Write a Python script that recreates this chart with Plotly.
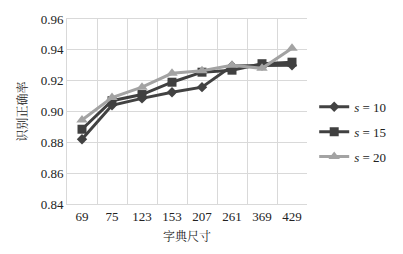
import plotly.graph_objects as go

categories = ["69", "75", "123", "153", "207", "261", "369", "429"]
s10 = [0.882, 0.904, 0.9085, 0.9125, 0.9158, 0.9295, 0.9298, 0.930]
s15 = [0.8885, 0.907, 0.911, 0.919, 0.9255, 0.9268, 0.931, 0.932]
s20 = [0.8945, 0.909, 0.9158, 0.9248, 0.9265, 0.930, 0.928, 0.941]
names = ["<i>s</i> = 10", "<i>s</i> = 15", "<i>s</i> = 20"]
yticks = [0.84, 0.86, 0.88, 0.90, 0.92, 0.94, 0.96]

series = [s10, s15, s20]
colors = ["#424242", "#404040", "#a3a3a3"]
symbols = ["diamond", "square", "triangle-up"]
sizes = [8, 9, 10]

fig = go.Figure()
for i, (vals, nm) in enumerate(zip(series, names)):
    fig.add_trace(go.Scatter(
        x=categories, y=vals, name=nm, mode="lines+markers",
        line=dict(color=colors[i], width=3),
        marker=dict(symbol=symbols[i], size=sizes[i], color=colors[i]),
        legendgroup=f"g{i}",
    ))

font_family = "Times New Roman, Liberation Serif, Noto Serif CJK SC, Noto Sans CJK SC"
fig.update_layout(
    width=403, height=254,
    margin=dict(l=67, r=96, t=15, b=41),
    paper_bgcolor="white", plot_bgcolor="white",
    font=dict(family=font_family, size=13, color="#222"),
    legend=dict(x=1.03, xanchor="left", y=0.39, yanchor="middle",
                traceorder="grouped", tracegroupgap=5,
                font=dict(size=13, family=font_family), itemwidth=30,
                bgcolor="rgba(0,0,0,0)"),
    showlegend=True,
)
fig.update_xaxes(
    type="category", tickson="boundaries", showgrid=True, gridcolor="#d9d9d9",
    gridwidth=1, ticks="", showline=True, linecolor="#d9d9d9",
    title=dict(text="字典尺寸", font=dict(size=12), standoff=10),
    tickfont=dict(size=13), range=[-0.5, 7.5], mirror=True,
)
fig.update_yaxes(
    range=[0.84, 0.96], tickvals=yticks,
    ticktext=[f"{v:.2f}" for v in yticks],
    showgrid=True, gridcolor="#d9d9d9", gridwidth=1, ticks="",
    showline=True, linecolor="#d9d9d9", zeroline=False,
    title=dict(text="识别正确率", font=dict(size=12), standoff=10),
    tickfont=dict(size=13),
)
fig.write_html("out.html")
